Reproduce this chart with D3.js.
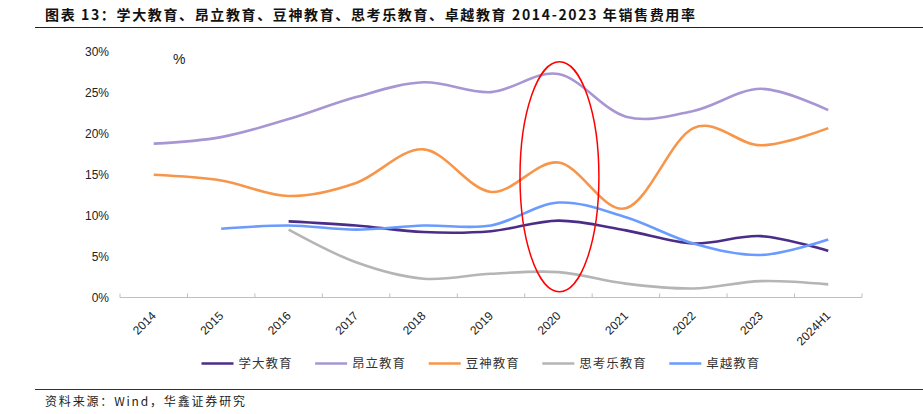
<!DOCTYPE html>
<html>
<head>
<meta charset="utf-8">
<script src="https://cdn.jsdelivr.net/npm/d3@7"></script>
<style>
  body { margin: 0; background: #fff; }
  svg { display: block; }
</style>
</head>
<body>
<div id="chart"></div>
<script>
'use strict';

// data
const years = ['2014', '2015', '2016', '2017', '2018', '2019', '2020', '2021', '2022', '2023', '2024H1'];
const xueda   = [null, null, 9.3, 8.8, 8.0, 8.1, 9.4, 8.2, 6.6, 7.5, 5.7];
const angli   = [18.8, 19.6, 21.8, 24.5, 26.3, 25.1, 27.3, 22.1, 22.8, 25.5, 22.9];
const doushen = [15.0, 14.3, 12.4, 14.0, 18.1, 12.9, 16.5, 10.9, 20.7, 18.6, 20.7];
const sikaole = [null, null, 8.3, 4.3, 2.3, 2.9, 3.1, 1.7, 1.1, 2.0, 1.6];
const zhuoyue = [null, 8.4, 8.8, 8.3, 8.8, 8.8, 11.6, 9.8, 6.6, 5.2, 7.1];
const seriesNames = ['学大教育', '昂立教育', '豆神教育', '思考乐教育', '卓越教育'];
const yTicks = [0, 5, 10, 15, 20, 25, 30];
const highlightYear = '2020';
const highlightRange = [0.7, 28.8];

const colors = ['#4b2d87', '#a796d3', '#f7964a', '#b5b5b5', '#6a9bff'];
const seriesValues = [xueda, angli, doushen, sikaole, zhuoyue];

const W = 923, H = 414;
const plot = {left: 120, right: 862, top: 52, bottom: 297.5};

const svg = d3.select('#chart').append('svg')
    .attr('width', W)
    .attr('height', H);

const cjk = '"Noto Sans CJK SC", "Noto Sans", sans-serif';
const latin = '"Liberation Sans", Arial, sans-serif';

// title + rules
svg.append('text')
    .attr('x', 45)
    .attr('y', 20)
    .attr('font-family', cjk)
    .attr('font-weight', 'bold')
    .attr('font-size', 14)
    .attr('fill', '#111')
    .attr('textLength', 650)
    .attr('lengthAdjust', 'spacing')
    .text('图表 13：学大教育、昂立教育、豆神教育、思考乐教育、卓越教育 2014-2023 年销售费用率');

svg.append('line')
    .attr('x1', 35).attr('x2', W)
    .attr('y1', 27.5).attr('y2', 27.5)
    .attr('stroke', '#222')
    .attr('stroke-width', 1.2);

svg.append('line')
    .attr('x1', 35).attr('x2', W)
    .attr('y1', 389.5).attr('y2', 389.5)
    .attr('stroke', '#333')
    .attr('stroke-width', 1);

svg.append('text')
    .attr('x', 45)
    .attr('y', 406)
    .attr('font-family', cjk)
    .attr('font-size', 12)
    .attr('fill', '#222')
    .attr('textLength', 200)
    .attr('lengthAdjust', 'spacing')
    .text('资料来源：Wind，华鑫证券研究');

// scales
const xScale = d3.scaleBand().domain(years).range([plot.left, plot.right]).padding(0);
const xCenter = d => xScale(d) + xScale.bandwidth() / 2;
const yScale = d3.scaleLinear().domain([0, 30]).range([plot.bottom, plot.top]);

// y labels (no axis line)
svg.append('g')
    .selectAll('text')
    .data(yTicks)
    .join('text')
    .attr('x', 109)
    .attr('y', d => yScale(d))
    .attr('dy', '0.35em')
    .attr('text-anchor', 'end')
    .attr('font-family', latin)
    .attr('font-size', 12)
    .attr('fill', '#222')
    .text(d => d + '%');

svg.append('text')
    .attr('x', 173)
    .attr('y', 64)
    .attr('font-family', latin)
    .attr('font-size', 14)
    .attr('fill', '#222')
    .text('%');

// x axis
const axis = svg.append('g');
axis.append('line')
    .attr('x1', plot.left).attr('x2', plot.right)
    .attr('y1', plot.bottom).attr('y2', plot.bottom)
    .attr('stroke', '#bfbfbf')
    .attr('stroke-width', 1);

const boundaries = years.map(d => xScale(d)).concat([plot.right]);
axis.selectAll('line.tick')
    .data(boundaries)
    .join('line')
    .attr('class', 'tick')
    .attr('x1', d => d).attr('x2', d => d)
    .attr('y1', plot.bottom - 4).attr('y2', plot.bottom)
    .attr('stroke', '#bfbfbf')
    .attr('stroke-width', 1);

axis.selectAll('text')
    .data(years)
    .join('text')
    .attr('transform', d => `translate(${xCenter(d) + 3},${plot.bottom + 19}) rotate(-45)`)
    .attr('text-anchor', 'end')
    .attr('font-family', latin)
    .attr('font-size', 12)
    .attr('fill', '#222')
    .text(d => d);

// lines
const line = d3.line()
    .defined(d => d.v != null)
    .x(d => xCenter(d.year))
    .y(d => yScale(d.v))
    .curve(d3.curveCardinal.tension(0));

seriesValues.forEach((vals, i) => {
    const pts = vals.map((v, j) => ({year: years[j], v: v}));
    svg.append('path')
        .datum(pts)
        .attr('fill', 'none')
        .attr('stroke', colors[i])
        .attr('stroke-width', 2.6)
        .attr('stroke-linecap', 'butt')
        .attr('d', line);
});

// highlight ellipse
svg.append('ellipse')
    .attr('cx', xCenter(highlightYear) + 1)
    .attr('cy', (yScale(highlightRange[0]) + yScale(highlightRange[1])) / 2)
    .attr('rx', xScale.bandwidth() * 0.585)
    .attr('ry', (yScale(highlightRange[0]) - yScale(highlightRange[1])) / 2)
    .attr('fill', 'none')
    .attr('stroke', '#ff0000')
    .attr('stroke-width', 1.5);

// legend
const legend = svg.append('g').attr('transform', 'translate(0,363.5)');
let lx = 201.5;
seriesNames.forEach((name, i) => {
    legend.append('line')
        .attr('x1', lx).attr('x2', lx + 32)
        .attr('y1', 0).attr('y2', 0)
        .attr('stroke', colors[i])
        .attr('stroke-width', 2.6);
    const t = legend.append('text')
        .attr('x', lx + 37)
        .attr('y', 0)
        .attr('dy', '0.36em')
        .attr('font-family', cjk)
        .attr('font-size', 12.5)
        .attr('letter-spacing', 1)
        .attr('fill', '#333')
        .text(name);
    lx += 37 + name.length * 13.4 + 23;
});
</script>
</body>
</html>
